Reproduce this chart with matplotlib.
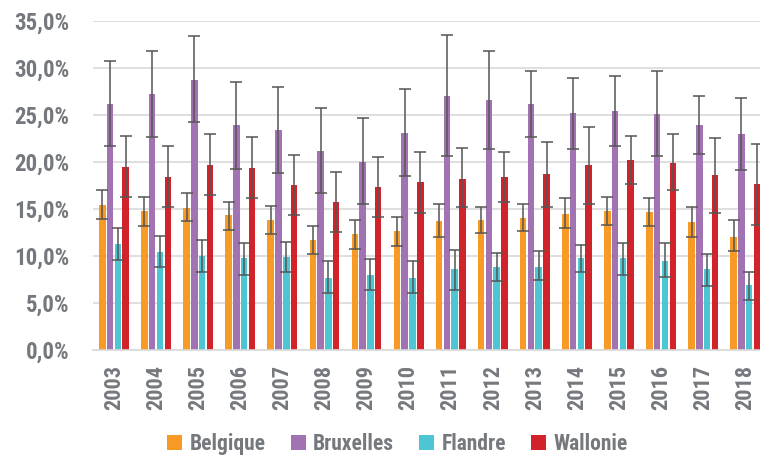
import numpy as np
import matplotlib
matplotlib.use("Agg")
import matplotlib.pyplot as plt
from matplotlib.ticker import FuncFormatter

# Data (percent)
years = [str(y) for y in range(2003, 2019)]
series_names = ["Belgique", "Bruxelles", "Flandre", "Wallonie"]

belgique = [15.4, 14.8, 15.1, 14.3, 13.8, 11.7, 12.3, 12.6, 13.7, 13.8, 14.0, 14.4, 14.8, 14.6, 13.6, 12.0]
belgique_lo = [13.9, 13.2, 13.7, 12.7, 12.3, 10.2, 10.7, 11.0, 12.0, 12.4, 12.6, 12.9, 13.3, 13.2, 12.0, 10.5]
belgique_hi = [17.0, 16.2, 16.7, 15.7, 15.3, 13.2, 13.8, 14.1, 15.5, 15.2, 15.5, 16.1, 16.2, 16.1, 15.2, 13.8]

bruxelles = [26.1, 27.2, 28.7, 23.9, 23.4, 21.1, 20.0, 23.1, 27.0, 26.6, 26.1, 25.2, 25.4, 25.1, 23.9, 23.0]
bruxelles_lo = [21.7, 22.6, 24.2, 19.2, 18.8, 16.7, 15.5, 18.5, 20.6, 21.4, 22.6, 21.4, 21.7, 20.6, 20.8, 19.1]
bruxelles_hi = [30.7, 31.8, 33.4, 28.5, 27.9, 25.7, 24.7, 27.7, 33.5, 31.8, 29.7, 28.9, 29.1, 29.6, 27.0, 26.8]

flandre = [11.2, 10.4, 10.0, 9.8, 9.9, 7.6, 7.9, 7.6, 8.6, 8.8, 8.8, 9.8, 9.8, 9.4, 8.6, 6.9]
flandre_lo = [9.5, 8.8, 8.3, 8.0, 8.3, 6.0, 6.4, 6.0, 6.4, 7.3, 7.4, 8.3, 8.0, 7.7, 6.8, 5.3]
flandre_hi = [12.9, 12.1, 11.7, 11.4, 11.5, 9.4, 9.7, 9.4, 10.6, 10.3, 10.5, 11.1, 11.4, 11.4, 10.2, 8.3]

wallonie = [19.4, 18.4, 19.6, 19.3, 17.5, 15.7, 17.3, 17.8, 18.2, 18.4, 18.7, 19.6, 20.2, 19.9, 18.6, 17.6]
wallonie_lo = [16.2, 15.2, 16.5, 16.1, 14.3, 12.5, 14.1, 14.5, 15.2, 15.7, 15.2, 15.5, 17.6, 17.0, 14.5, 13.3]
wallonie_hi = [22.7, 21.7, 22.9, 22.6, 20.7, 18.9, 20.5, 21.0, 21.5, 21.0, 22.1, 23.7, 22.7, 22.9, 22.5, 21.9]

colors = ["#F89B26", "#A173B3", "#4EC5D3", "#D2232A"]
text_grey = "#75797D"

plt.rcParams['font.family'] = ['Roboto Condensed', 'DejaVu Sans']
plt.rcParams['font.weight'] = 'bold'

fig = plt.figure(figsize=(7.6, 4.58), dpi=100)
ax = fig.add_axes([93 / 760, 108.3 / 458, 667 / 760, 329 / 458])

x = np.arange(len(years))
values = [belgique, bruxelles, flandre, wallonie]
lows = [belgique_lo, bruxelles_lo, flandre_lo, wallonie_lo]
highs = [belgique_hi, bruxelles_hi, flandre_hi, wallonie_hi]
step, width = 0.185, 0.155

for i, name in enumerate(series_names):
    v = np.array(values[i])
    err = np.vstack([v - np.array(lows[i]), np.array(highs[i]) - v])
    ax.bar(x + (i - 1.5) * step, v, width, color=colors[i], label=name, zorder=2,
           yerr=err, capsize=4, error_kw=dict(ecolor="#555555", elinewidth=1.1, capthick=1.1, zorder=3))

ax.set_ylim(0, 35)
ax.set_xlim(-0.5, 15.35)
ax.set_yticks(np.arange(0, 36, 5))
ax.yaxis.set_major_formatter(FuncFormatter(lambda v, p: f"{v:.1f}%".replace(".", ",")))
ax.grid(axis="y", color="#D9D9D9", linewidth=1.2, zorder=0)
ax.set_axisbelow(True)
for s in ["top", "right", "left"]:
    ax.spines[s].set_visible(False)
ax.spines["bottom"].set_color("#D9D9D9")
ax.spines["bottom"].set_linewidth(1.2)

ax.set_xticks(x)
ax.set_xticklabels(years, rotation=90, fontsize=16, color=text_grey)
ax.tick_params(axis="x", length=0, pad=11)
ax.tick_params(axis="y", length=0, pad=17, labelsize=16.5, labelcolor=text_grey)

fig.legend(loc="lower center", bbox_to_anchor=(0.523, -0.036), ncol=4, frameon=False,
           fontsize=15.5, labelcolor=text_grey, handlelength=0.7, handleheight=0.7,
           columnspacing=1.15, handletextpad=0.35)

fig.savefig("out.png", dpi=100)
